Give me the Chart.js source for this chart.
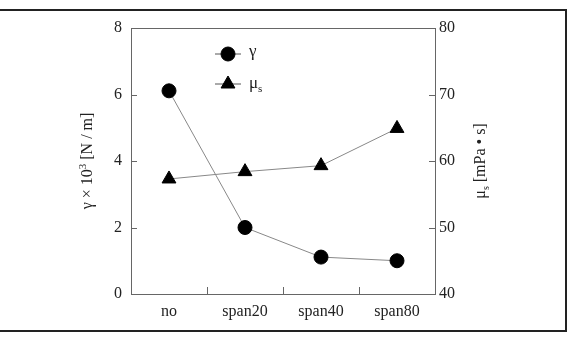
<!DOCTYPE html>
<html>
<head>
<meta charset="utf-8">
<script src="https://cdn.jsdelivr.net/npm/chart.js@4.4.1/dist/chart.umd.min.js"></script>
<style>
  html, body { margin: 0; padding: 0; background: #fff; }
  #wrap { width: 575px; height: 342px; position: relative; }
</style>
</head>
<body>
<div id="wrap"><canvas id="myChart" width="575" height="342"></canvas></div>
<script>
// data
var categories = ['no', 'span20', 'span40', 'span80'];
var gammaValues = [6.11, 2.0, 1.11, 1.0];
var muValues = [57.3, 58.4, 59.3, 64.9];
var leftTicks = [0, 2, 4, 6, 8];
var rightTicks = [40, 50, 60, 70, 80];

var serif = '"Liberation Serif", "Times New Roman", serif';
var axisColor = '#666';

// frame, inner ticks, axis titles and legend
var extras = {
    id: 'extras',
    afterDraw: function (chart) {
        var c = chart.ctx;
        var a = chart.chartArea;
        var x = chart.scales.x, yl = chart.scales.y, yr = chart.scales.y2;
        c.save();

        // outer frame (open on the left)
        c.strokeStyle = '#222';
        c.lineWidth = 2;
        c.beginPath();
        c.moveTo(0, 10); c.lineTo(566, 10); c.lineTo(566, 331); c.lineTo(0, 331);
        c.stroke();

        // top edge of the plot box
        c.strokeStyle = axisColor;
        c.lineWidth = 1;
        c.beginPath();
        c.moveTo(a.left, Math.round(a.top) + 0.5); c.lineTo(a.right, Math.round(a.top) + 0.5);
        c.stroke();

        // inner ticks
        c.beginPath();
        leftTicks.forEach(function (v) {
            var py = Math.round(yl.getPixelForValue(v)) + 0.5;
            c.moveTo(a.left, py); c.lineTo(a.left + 6, py);
        });
        rightTicks.forEach(function (v) {
            var py = Math.round(yr.getPixelForValue(v)) + 0.5;
            c.moveTo(a.right, py); c.lineTo(a.right - 6, py);
        });
        for (var i = 1; i < categories.length; i++) {
            var px = Math.round((x.getPixelForValue(i - 1) + x.getPixelForValue(i)) / 2) + 0.5;
            c.moveTo(px, a.bottom); c.lineTo(px, a.bottom - 7);
        }
        c.stroke();

        // left title
        c.fillStyle = '#222';
        c.textBaseline = 'middle';
        c.save();
        c.translate(88, (a.top + a.bottom) / 2);
        c.rotate(-Math.PI / 2);
        var t1 = 'γ × 10', t2 = ' [N / m]';
        c.font = '16px ' + serif;
        var w1 = c.measureText(t1).width, w2 = c.measureText(t2).width;
        c.font = '11px ' + serif;
        var w3 = c.measureText('3').width;
        var sx = -(w1 + w2 + w3) / 2;
        c.textAlign = 'left';
        c.font = '16px ' + serif;
        c.fillText(t1, sx, 0);
        c.font = '11px ' + serif;
        c.fillText('3', sx + w1, -5);
        c.font = '16px ' + serif;
        c.fillText(t2, sx + w1 + w3, 0);
        c.restore();

        // right title
        c.save();
        c.translate(481, (a.top + a.bottom) / 2);
        c.rotate(-Math.PI / 2);
        c.textAlign = 'left';
        c.font = '16px ' + serif;
        var r1 = 'μ', r2 = ' [mPa • s]';
        var q1 = c.measureText(r1).width, q2 = c.measureText(r2).width;
        c.font = '10px ' + serif;
        var q3 = c.measureText('s').width;
        var rx = -(q1 + q2 + q3) / 2;
        c.font = '16px ' + serif;
        c.fillText(r1, rx, 0);
        c.font = '10px ' + serif;
        c.fillText('s', rx + q1, 5);
        c.font = '16px ' + serif;
        c.fillText(r2, rx + q1 + q3, 0);
        c.restore();

        // legend
        var lx = a.left + 97, ly1 = a.top + 26, ly2 = a.top + 56;
        [[ly1, 'circle', 7], [ly2, 'triangle', 8]].forEach(function (row) {
            c.strokeStyle = '#555';
            c.lineWidth = 1;
            c.beginPath();
            c.moveTo(lx - 13, row[0]); c.lineTo(lx + 13, row[0]);
            c.stroke();
            c.fillStyle = '#000';
            c.strokeStyle = '#000';
            Chart.helpers.drawPoint(c, { pointStyle: row[1], radius: row[2], rotation: 0, borderWidth: 1 }, lx, row[0]);
        });
        c.fillStyle = '#222';
        c.textAlign = 'left';
        c.font = '17px ' + serif;
        c.fillText('γ', lx + 21, ly1 - 2);
        c.fillText('μ', lx + 21, ly2);
        var mw = c.measureText('μ').width;
        c.font = '11px ' + serif;
        c.fillText('s', lx + 21 + mw, ly2 + 5);

        c.restore();
    }
};

var ctx = document.getElementById('myChart').getContext('2d');
var chart = new Chart(ctx, {
    type: 'line',
    data: {
        labels: categories,
        datasets: [{
            label: 'γ',
            data: gammaValues,
            yAxisID: 'y',
            borderColor: '#888',
            borderWidth: 1,
            pointStyle: 'circle',
            pointRadius: 7,
            pointBackgroundColor: '#000',
            pointBorderColor: '#000',
            tension: 0
        }, {
            label: 'μs',
            data: muValues,
            yAxisID: 'y2',
            borderColor: '#888',
            borderWidth: 1,
            pointStyle: 'triangle',
            pointRadius: 8,
            pointBackgroundColor: '#000',
            pointBorderColor: '#000',
            tension: 0
        }]
    },
    options: {
        responsive: false,
        animation: false,
        events: [],
        layout: { padding: { top: 28, left: 0, right: 0, bottom: 0 } },
        plugins: { legend: { display: false }, tooltip: { enabled: false } },
        scales: {
            x: {
                offset: true,
                grid: { display: false, drawTicks: false },
                border: { display: true, color: axisColor, width: 1 },
                ticks: { color: '#222', font: { family: serif, size: 16 }, padding: 8 },
                afterFit: function (s) { s.height = 48; }
            },
            y: {
                position: 'left',
                min: 0, max: 8,
                afterBuildTicks: function (s) { s.ticks = leftTicks.map(function (v) { return { value: v }; }); },
                grid: { display: false, drawTicks: false },
                border: { display: true, color: axisColor, width: 1 },
                ticks: { color: '#222', font: { family: serif, size: 16 }, padding: 9 },
                afterFit: function (s) { s.width = 131; }
            },
            y2: {
                position: 'right',
                min: 40, max: 80,
                afterBuildTicks: function (s) { s.ticks = rightTicks.map(function (v) { return { value: v }; }); },
                grid: { display: false, drawTicks: false },
                border: { display: true, color: axisColor, width: 1 },
                ticks: { color: '#222', font: { family: serif, size: 16 }, padding: 4 },
                afterFit: function (s) { s.width = 140; }
            }
        }
    },
    plugins: [extras]
});
</script>
</body>
</html>
